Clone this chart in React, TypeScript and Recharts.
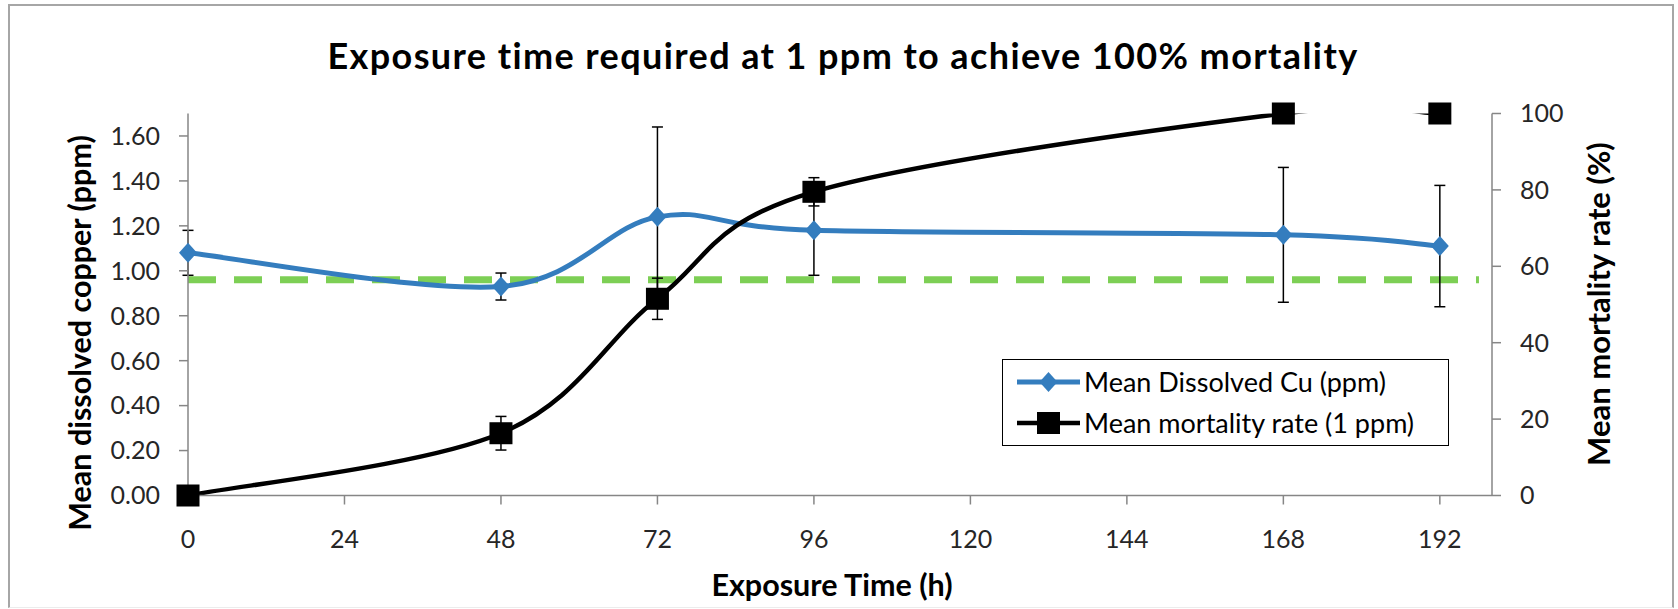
import * as React from "react"
import { LineChart, Line, XAxis, YAxis, ErrorBar, ReferenceLine, Legend } from "recharts"

// values
const hours = [0, 48, 72, 96, 168, 192]
const cuMean = [1.08, 0.93, 1.24, 1.18, 1.16, 1.11]
const cuSd = [0.1, 0.06, 0.4, 0.2, 0.3, 0.27]
const mortality = [0, 16.3, 51.5, 79.5, 100, 100]
const mortalitySd = [0, 4.4, 5.4, 3.7, 0, 0]
const threshold = 0.96

const xTicks = [0, 24, 48, 72, 96, 120, 144, 168, 192]
const leftTicks = [0, 0.2, 0.4, 0.6, 0.8, 1.0, 1.2, 1.4, 1.6]
const rightTicks = [0, 20, 40, 60, 80, 100]

const BLUE = "#347dbe"
const GREEN = "#7dcf55"
const AXIS = "#868686"
const FONT = "Lato, 'Noto Sans', sans-serif"

const data = hours.map((h, i) => ({
  hours: h,
  cu: cuMean[i],
  cuErr: cuSd[i],
  mort: mortality[i],
  mortErr: mortalitySd[i],
}))

// Excel-like smoothing (Catmull-Rom through the points)
const excelSmooth: any = (context: any) => {
  let pts: number[][] = []
  return {
    areaStart() {},
    areaEnd() {},
    lineStart() {
      pts = []
    },
    point(x: number, y: number) {
      pts.push([+x, +y])
    },
    lineEnd() {
      if (!pts.length) return
      context.moveTo(pts[0][0], pts[0][1])
      for (let i = 0; i < pts.length - 1; i++) {
        const p0 = pts[i - 1] || pts[i]
        const p1 = pts[i]
        const p2 = pts[i + 1]
        const p3 = pts[i + 2] || p2
        context.bezierCurveTo(
          p1[0] + (p2[0] - p0[0]) / 6,
          p1[1] + (p2[1] - p0[1]) / 6,
          p2[0] - (p3[0] - p1[0]) / 6,
          p2[1] - (p3[1] - p1[1]) / 6,
          p2[0],
          p2[1],
        )
      }
    },
  }
}

const Diamond = (props: any) => {
  const { cx, cy, index } = props
  if (cx == null || cy == null) return null
  return (
    <path
      key={`dia-${index}`}
      d={`M${cx},${cy - 10}L${cx + 9},${cy}L${cx},${cy + 10}L${cx - 9},${cy}Z`}
      fill={BLUE}
    />
  )
}

const Square = (props: any) => {
  const { cx, cy, index } = props
  if (cx == null || cy == null) return null
  return <rect key={`sq-${index}`} x={cx - 11.5} y={cy - 11} width={23} height={22} fill="#000" />
}

const LegendBox = () => (
  <div
    style={{
      width: 447,
      height: 87,
      boxSizing: "border-box",
      border: "1.5px solid #000",
      background: "#fff",
      position: "relative",
    }}
  >
    <svg width={447} height={87} style={{ position: "absolute", left: -1.5, top: -1.5 }}>
      <line x1={15} y1={23} x2={78} y2={23} stroke={BLUE} strokeWidth={5} />
      <path d="M46.5,13L55.5,23L46.5,33L37.5,23Z" fill={BLUE} />
      <text x={82} y={32.5} fontSize={27} fontFamily={FONT} fill="#000">
        Mean Dissolved Cu (ppm)
      </text>
      <line x1={15} y1={64} x2={78} y2={64} stroke="#000" strokeWidth={4.5} />
      <rect x={35} y={53} width={23} height={22} fill="#000" />
      <text x={82} y={73.5} fontSize={27} fontFamily={FONT} fill="#000">
        Mean mortality rate (1 ppm)
      </text>
    </svg>
  </div>
)

export default function App() {
  const tickStyle = { fill: "#262626", fontSize: 25, fontFamily: FONT }
  const titleStyle = { fontFamily: FONT, fontWeight: "bold" as const, fill: "#000" }
  return (
    <div
      style={{
        position: "absolute",
        left: 0,
        top: 0,
        width: 1678,
        height: 609,
        background: "#fff",
        overflow: "hidden",
      }}
    >
      <div
        style={{
          position: "absolute",
          left: 8,
          top: 4,
          width: 1666,
          height: 604,
          boxSizing: "border-box",
          borderTop: "2px solid #a6a6a6",
          borderLeft: "2px solid #a6a6a6",
          borderRight: "2px solid #a6a6a6",
          borderBottom: "1px solid #ececec",
        }}
      />
      <div style={{ position: "absolute", left: 0, top: 0 }}>
        <LineChart width={1678} height={609} data={data} margin={{ top: 113.5, right: 0, bottom: 0, left: 0 }}>
          <XAxis
            dataKey="hours"
            type="number"
            domain={[0, 200]}
            ticks={xTicks}
            interval={0}
            height={113.5}
            tickSize={9}
            tickMargin={26}
            tick={tickStyle}
            axisLine={{ stroke: AXIS, strokeWidth: 1.5 }}
            tickLine={{ stroke: AXIS, strokeWidth: 1.5 }}
          />
          <YAxis
            yAxisId="left"
            domain={[0, 1.7]}
            ticks={leftTicks}
            interval={0}
            width={188}
            tickSize={9}
            tickMargin={19}
            tick={tickStyle}
            tickFormatter={(v: number) => v.toFixed(2)}
            axisLine={{ stroke: AXIS, strokeWidth: 1.5 }}
            tickLine={{ stroke: AXIS, strokeWidth: 1.5 }}
          />
          <YAxis
            yAxisId="right"
            orientation="right"
            domain={[0, 100]}
            allowDataOverflow
            ticks={rightTicks}
            interval={0}
            width={186}
            tickSize={9}
            tickMargin={19}
            tick={tickStyle}
            axisLine={{ stroke: AXIS, strokeWidth: 1.5 }}
            tickLine={{ stroke: AXIS, strokeWidth: 1.5 }}
          />
          <YAxis yAxisId="marks" hide domain={[0, 100]} />
          <ReferenceLine
            yAxisId="left"
            segment={[
              { x: 0, y: threshold },
              { x: 198, y: threshold },
            ]}
            stroke={GREEN}
            strokeWidth={7}
            strokeDasharray="28 18"
          />
          <Line
            yAxisId="left"
            dataKey="cu"
            type={excelSmooth}
            stroke={BLUE}
            strokeWidth={5}
            dot={Diamond}
            activeDot={false}
            isAnimationActive={false}
          >
            <ErrorBar dataKey="cuErr" direction="y" width={5.5} stroke="#000" strokeWidth={1.5} />
          </Line>
          <Line
            yAxisId="right"
            dataKey="mort"
            type={excelSmooth}
            stroke="#000"
            strokeWidth={4.5}
            dot={false}
            activeDot={false}
            isAnimationActive={false}
          >
            <ErrorBar dataKey="mortErr" direction="y" width={5.5} stroke="#000" strokeWidth={1.5} />
          </Line>
          <Line
            yAxisId="marks"
            dataKey="mort"
            stroke="none"
            dot={Square}
            activeDot={false}
            legendType="none"
            isAnimationActive={false}
          />
          <Legend
            layout="vertical"
            align="center"
            verticalAlign="middle"
            content={() => <LegendBox />}
            wrapperStyle={{ left: 1002, top: 359, width: 447, height: 87 }}
          />
        </LineChart>
      </div>
      <svg
        width={1678}
        height={609}
        style={{ position: "absolute", left: 0, top: 0, pointerEvents: "none" }}
      >
        <text x={843} y={69} textAnchor="middle" fontSize={36} letterSpacing={1.4} {...titleStyle}>
          Exposure time required at 1 ppm to achieve 100% mortality
        </text>
        <text x={832} y={596} textAnchor="middle" fontSize={30.5} {...titleStyle}>
          Exposure Time (h)
        </text>
        <text transform="translate(91,333) rotate(-90)" textAnchor="middle" fontSize={30.5} {...titleStyle}>
          Mean dissolved copper (ppm)
        </text>
        <text transform="translate(1610,304) rotate(-90)" textAnchor="middle" fontSize={31} {...titleStyle}>
          Mean mortality rate (%)
        </text>
      </svg>
    </div>
  )
}
